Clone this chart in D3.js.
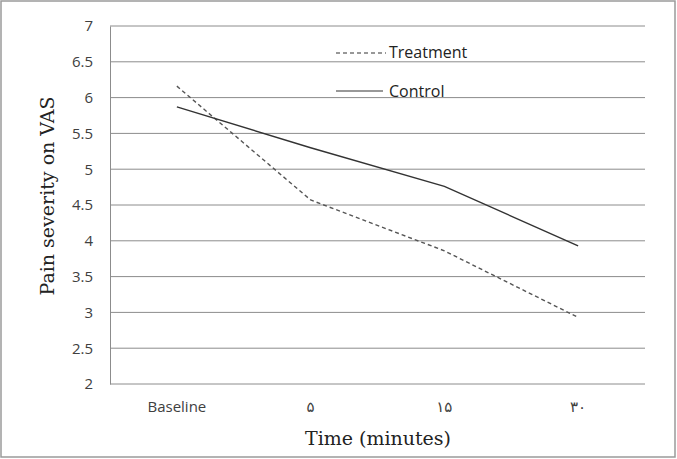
<html>
<head>
<meta charset="utf-8" />
<style>
  html, body { margin: 0; padding: 0; background: #fff; }
  #chart { width: 677px; height: 459px; }
  .tick text { font-family: "Open Sans", "DejaVu Sans", sans-serif; }
</style>
</head>
<body>
<div id="chart"></div>
<script src="https://cdnjs.cloudflare.com/ajax/libs/d3/7.8.5/d3.min.js"></script>
<script>
var categories = ["Baseline", "\u06f5", "\u06f1\u06f5", "\u06f3\u06f0"];
var treatment = [6.16, 4.57, 3.86, 2.93];
var control = [5.87, 5.30, 4.76, 3.93];
var yTicks = [2, 2.5, 3, 3.5, 4, 4.5, 5, 5.5, 6, 6.5, 7];

var width = 677, height = 459;
var margin = {top: 26, left: 110, right: 32, bottom: 75};

var svg = d3.select("#chart").append("svg")
    .attr("width", width).attr("height", height);

// outer frame
svg.append("rect")
    .attr("x", 1).attr("y", 1)
    .attr("width", width - 3).attr("height", height - 3)
    .attr("fill", "#fff").attr("stroke", "#9a9a9a").attr("stroke-width", 1.5);

var x = d3.scaleBand().domain(categories)
    .range([margin.left, width - margin.right]);
var y = d3.scaleLinear().domain([2, 7])
    .range([height - margin.bottom, margin.top]);

// gridlines
svg.append("g").selectAll("line")
    .data(yTicks).enter().append("line")
    .attr("x1", margin.left).attr("x2", width - margin.right)
    .attr("y1", function(d) { return y(d); })
    .attr("y2", function(d) { return y(d); })
    .attr("stroke", "#8c8c8c").attr("stroke-width", 1);

// y axis
var yAxis = svg.append("g")
    .attr("transform", "translate(" + margin.left + ",0)")
    .call(d3.axisLeft(y).tickValues(yTicks).tickSize(0).tickPadding(17)
      .tickFormat(function(d) { return d; }));
yAxis.select(".domain").attr("stroke", "#8c8c8c");
yAxis.selectAll("text").attr("font-size", 15).attr("fill", "#404040");

// x axis (labels only)
var xAxis = svg.append("g")
    .attr("transform", "translate(0," + (height - margin.bottom) + ")")
    .call(d3.axisBottom(x).tickSize(0).tickPadding(17));
xAxis.select(".domain").remove();
xAxis.selectAll("text").attr("font-size", 15).attr("fill", "#404040");

var line = d3.line()
    .x(function(d, i) { return x(categories[i]) + x.bandwidth() / 2; })
    .y(function(d) { return y(d); });

svg.append("path").datum(treatment)
    .attr("d", line).attr("fill", "none")
    .attr("stroke", "#555").attr("stroke-width", 1.4)
    .attr("stroke-dasharray", "4,3");

svg.append("path").datum(control)
    .attr("d", line).attr("fill", "none")
    .attr("stroke", "#333").attr("stroke-width", 1.4);

// legend
var legend = svg.append("g").attr("font-family", "'Open Sans', 'DejaVu Sans', sans-serif")
    .attr("font-size", 16).attr("fill", "#222");
legend.append("line").attr("x1", 336).attr("x2", 386).attr("y1", 53).attr("y2", 53)
    .attr("stroke", "#333").attr("stroke-width", 1.2).attr("stroke-dasharray", "4,3");
legend.append("text").attr("x", 389).attr("y", 58).text("Treatment");
legend.append("line").attr("x1", 336).attr("x2", 383).attr("y1", 91).attr("y2", 91)
    .attr("stroke", "#333").attr("stroke-width", 1.2);
legend.append("text").attr("x", 389).attr("y", 97).text("Control");

// axis titles
svg.append("text")
    .attr("x", 378).attr("y", 445)
    .attr("text-anchor", "middle")
    .attr("font-family", "'DejaVu Serif', 'Liberation Serif', serif")
    .attr("font-size", 19).attr("fill", "#222")
    .text("Time (minutes)");

svg.append("text")
    .attr("transform", "translate(54,196) rotate(-90)")
    .attr("text-anchor", "middle")
    .attr("font-family", "'DejaVu Serif', 'Liberation Serif', serif")
    .attr("font-size", 19).attr("fill", "#222")
    .text("Pain severity on VAS");
</script>
</body>
</html>
